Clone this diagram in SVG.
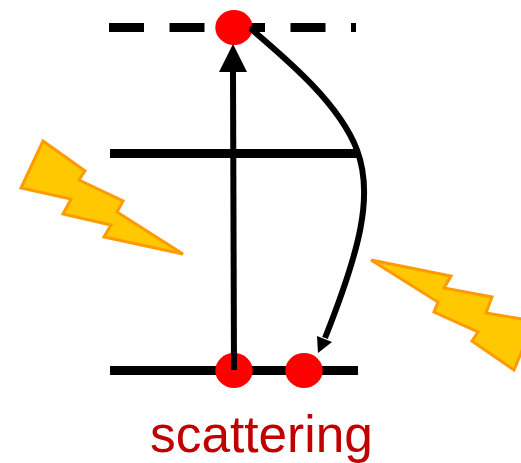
<svg xmlns="http://www.w3.org/2000/svg" width="521" height="463" viewBox="0 0 521 463">
<style>
.lvl{stroke:#000;stroke-width:9;fill:none}
.conn{stroke:#000;stroke-width:6;fill:none}
.dot{fill:#f00}
.bolt{fill:#ffc800;stroke:#ff9a00;stroke-width:3;stroke-linejoin:miter}
.lab{font-family:"Liberation Sans",Arial,sans-serif;font-size:51.4px;fill:#c00000}
</style>
<g id="level-top"><path class="lvl" d="M109 27.5H356" stroke-dasharray="35 25.500"/></g>
<g id="level-mid"><path class="lvl" d="M110 153.5H358"/></g>
<g id="level-bottom"><path class="lvl" d="M110 370.5H358"/></g>
<g id="dot-top"><ellipse class="dot" cx="234" cy="27.5" rx="18.7" ry="17.500"/></g>
<g id="dot-bottom-left"><ellipse class="dot" cx="234" cy="370.5" rx="18.7" ry="17.500"/></g>
<g id="dot-bottom-right"><ellipse class="dot" cx="304" cy="370.5" rx="18.7" ry="17.500"/></g>
<g id="connectors">
<path class="conn" d="M234 370L233 72"/>
<path d="M233 44L247 72H219Z" fill="#000"/>
<path class="conn" d="M250.500 28.500C290 62 340 105 357 150C374 195 360 250 325 338"/>
<path d="M249 28L253 24L256 33Z" fill="#000"/>
<path d="M318 353L317 336L332 342Z" fill="#000"/>
</g>
<g id="bolt-left"><path class="bolt" d="M43 141L85 171L79 180L123 201L117 212L183 254L104 237L111 225L63 214L71 199L21 188Z"/></g>
<g id="bolt-right"><path class="bolt" d="M371 260L451 276L444 288L492 297L486 313L534 321L514 370L472 341L478 332L434 312L438 302Z"/></g>
<g id="label"><text class="lab" x="150" y="452">scattering</text></g>
</svg>
